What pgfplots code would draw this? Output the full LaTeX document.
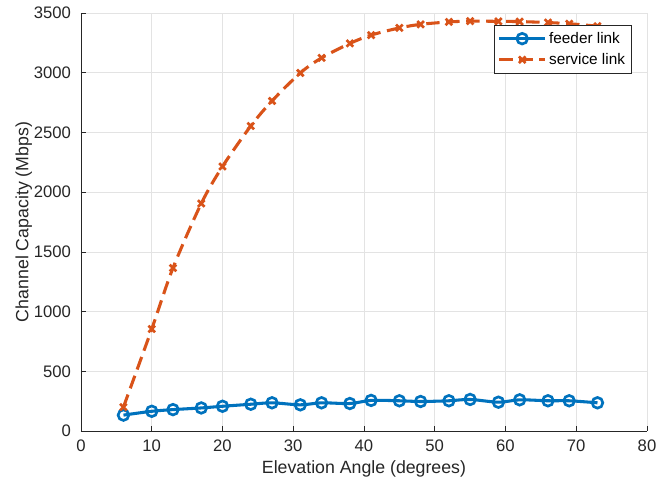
\documentclass[border=0pt]{standalone}
\usepackage{pgfplots}
\pgfplotsset{compat=1.18}
\usepackage{fontspec}
\setmainfont{Liberation Sans}
\definecolor{mblue}{rgb}{0,0.447,0.741}
\definecolor{morange}{rgb}{0.85,0.325,0.098}
\definecolor{mgray}{rgb}{0.15,0.15,0.15}
\begin{document}
\begin{tikzpicture}
\begin{axis}[
  scale only axis,
  width=424.5pt, height=313.5pt,
  xmin=0, xmax=80, ymin=0, ymax=3500,
  xtick={0,10,...,80}, ytick={0,500,...,3500},
  axis lines=left,
  axis line style={mgray, line width=0.6pt, -},
  tick style={mgray, line width=0.5pt},
  tick align=inside,
  major tick length=4pt,
  grid=major,
  grid style={gray!22, line width=0.5pt},
  /pgf/number format/assume math mode=true,
  /pgf/number format/1000 sep={},
  ticklabel style={font=\fontsize{12.5}{14}\selectfont, text=mgray},
  xticklabel style={yshift=-3pt},
  yticklabel style={xshift=-4pt},
  label style={font=\fontsize{13.3}{15}\selectfont, text=mgray},
  xlabel={Elevation Angle (degrees)},
  ylabel={Channel Capacity (Mbps)},
  xlabel style={yshift=0pt},
  ylabel style={yshift=-5.5pt},
  legend style={at={(0.9735,0.971)}, anchor=north east, draw=mgray, line width=0.5pt,
    font=\fontsize{11.5}{13}\selectfont, inner sep=3pt, row sep=2pt, cells={anchor=west}},
  legend image code/.code={\draw[mark repeat=2,mark phase=2] plot coordinates {(0cm,0cm)(0.6cm,0cm)(1.2cm,0cm)};},
]
\addplot[mblue, line width=2.3pt, smooth, mark=o, mark size=4pt, mark options={solid, line width=2pt}] coordinates {
(6,133) (10,165) (13,179) (17,193) (20,207) (24,224) (27,236) (31,219) (34,236) (38,230)
(41,256) (45,253) (48,247) (52,253) (55,264) (59,241) (62,261) (66,253) (69,253) (73,236)
};
\addlegendentry{feeder link}
\addplot[morange, line width=2.3pt, smooth, dash pattern=on 10pt off 5pt, mark=x, mark size=3.5pt, mark options={solid, line width=2pt}] coordinates {
(6,200) (10,854) (13,1365) (17,1905) (20,2215) (24,2554) (27,2764) (31,2998) (34,3124) (38,3245)
(41,3315) (45,3375) (48,3405) (52,3425) (55,3432) (59,3430) (62,3428) (66,3420) (69,3410) (73,3390)
};
\addlegendentry{service link}
\end{axis}
\pgfresetboundingbox
\path[use as bounding box] ([shift={(-60.75pt,-42pt)}]current axis.south west) rectangle ([shift={(15.75pt,9.75pt)}]current axis.north east);
\end{tikzpicture}
\end{document}
